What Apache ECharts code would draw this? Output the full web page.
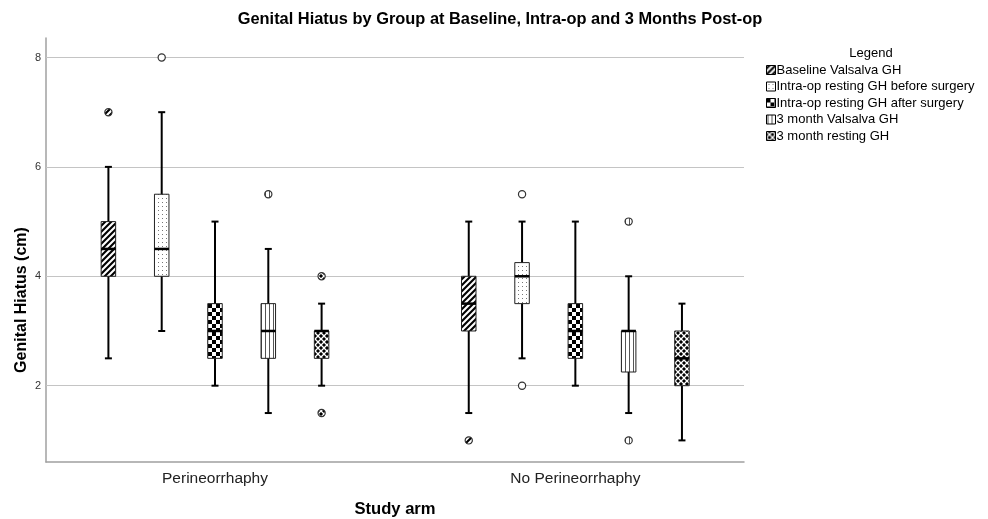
<!DOCTYPE html>
<html>
<head>
<meta charset="utf-8">
<script src="https://cdn.jsdelivr.net/npm/echarts@6/dist/echarts.min.js"></script>
<style>html,body{margin:0;padding:0;background:#fff;}#chart{width:988px;height:519px;}</style>
</head>
<body>
<div id="chart"></div>
<script>
// ---- data ----
const categories = ['Perineorrhaphy', 'No Perineorrhaphy'];
const groupPos = [1, 2];
const seriesNames = [
  'Baseline Valsalva GH',
  'Intra-op resting GH before surgery',
  'Intra-op resting GH after surgery',
  '3 month Valsalva GH',
  '3 month resting GH'
];
// [whisker low, Q1, median, Q3, whisker high] per study arm
const baselineValsalvaGH = [[2.5, 4, 4.5, 5, 6], [1.5, 3, 3.5, 4, 5]];
const intraopBeforeGH    = [[3, 4, 4.5, 5.5, 7], [2.5, 3.5, 4, 4.25, 5]];
const intraopAfterGH     = [[2, 2.5, 3, 3.5, 5], [2, 2.5, 3, 3.5, 5]];
const month3ValsalvaGH   = [[1.5, 2.5, 3, 3.5, 4.5], [1.5, 2.25, 3, 3, 4]];
const month3RestingGH    = [[2, 2.5, 3, 3, 3.5], [1, 2, 2.5, 3, 3.5]];
// outliers per study arm
const baselineValsalvaOut = [[7], [1]];
const intraopBeforeOut    = [[8], [5.5, 2]];
const intraopAfterOut     = [[], []];
const month3ValsalvaOut   = [[5.5], [5, 1]];
const month3RestingOut    = [[4, 1.5], []];
const yTicks = [2, 4, 6, 8];

// ---- patterns ----
function pat(kind) {
  const c = document.createElement('canvas');
  let ctx;
  if (kind === 'diag') {
    c.width = 6; c.height = 6; ctx = c.getContext('2d');
    ctx.fillStyle = '#000'; ctx.fillRect(0, 0, 6, 6);
    ctx.strokeStyle = '#fff'; ctx.lineWidth = 2.1;
    [0, 6, 12].forEach(k => { ctx.beginPath(); ctx.moveTo(-2, k + 2); ctx.lineTo(k + 2, -2); ctx.stroke(); });
  } else if (kind === 'dots') {
    c.width = 4; c.height = 4; ctx = c.getContext('2d');
    ctx.fillStyle = '#fff'; ctx.fillRect(0, 0, 4, 4);
    ctx.fillStyle = '#777'; ctx.fillRect(2, 2, 1, 1);
  } else if (kind === 'checker') {
    c.width = 8; c.height = 8; ctx = c.getContext('2d');
    ctx.fillStyle = '#fff'; ctx.fillRect(0, 0, 8, 8);
    ctx.fillStyle = '#000'; ctx.fillRect(0, 0, 4, 4); ctx.fillRect(4, 4, 4, 4);
  } else if (kind === 'vlines') {
    c.width = 4; c.height = 2; ctx = c.getContext('2d');
    ctx.fillStyle = '#fff'; ctx.fillRect(0, 0, 4, 2);
    ctx.fillStyle = '#555'; ctx.fillRect(1, 0, 1, 2);
  } else {
    c.width = 6; c.height = 6; ctx = c.getContext('2d');
    ctx.fillStyle = '#000'; ctx.fillRect(0, 0, 6, 6);
    ctx.strokeStyle = '#fff'; ctx.lineWidth = 1.3;
    [0, 6, 12].forEach(k => {
      ctx.beginPath(); ctx.moveTo(-2, k + 2); ctx.lineTo(k + 2, -2); ctx.stroke();
    });
    [-6, 0, 6].forEach(k => {
      ctx.beginPath(); ctx.moveTo(k - 2, -2); ctx.lineTo(k + 8, 8); ctx.stroke();
    });
  }
  return { image: c, repeat: 'repeat' };
}
const patterns = [pat('diag'), pat('dots'), pat('checker'), pat('vlines'), pat('lattice')];
const boxStats = [baselineValsalvaGH, intraopBeforeGH, intraopAfterGH, month3ValsalvaGH, month3RestingGH];
const outStats = [baselineValsalvaOut, intraopBeforeOut, intraopAfterOut, month3ValsalvaOut, month3RestingOut];
const outFill = [patterns[0], '#fff', patterns[2], patterns[3], patterns[4]];

const SPACING = 53.3, BOX_W = 14.5, CAP_W = 7;
const FONT = 'Liberation Sans, Arial, sans-serif';

function makeBoxRender(slot) {
  return function (params, api) {
    const gx = api.value(0);
    const pLow = api.coord([gx, api.value(1)]);
    const cx = pLow[0] + (slot - 2) * SPACING;
    const yLow = pLow[1];
    const yQ1 = api.coord([gx, api.value(2)])[1];
    const yMed = api.coord([gx, api.value(3)])[1];
    const yQ3 = api.coord([gx, api.value(4)])[1];
    const yHigh = api.coord([gx, api.value(5)])[1];
    const ls = { stroke: '#000', lineWidth: 2 };
    return {
      type: 'group',
      children: [
        { type: 'line', shape: { x1: cx, y1: yHigh, x2: cx, y2: yLow }, style: ls },
        { type: 'line', shape: { x1: cx - CAP_W / 2, y1: yHigh, x2: cx + CAP_W / 2, y2: yHigh }, style: ls },
        { type: 'line', shape: { x1: cx - CAP_W / 2, y1: yLow, x2: cx + CAP_W / 2, y2: yLow }, style: ls },
        { type: 'rect', shape: { x: cx - BOX_W / 2, y: yQ3, width: BOX_W, height: yQ1 - yQ3 },
          style: { fill: patterns[slot], stroke: '#222', lineWidth: 1 } },
        { type: 'line', shape: { x1: cx - BOX_W / 2, y1: yMed, x2: cx + BOX_W / 2, y2: yMed },
          style: { stroke: '#000', lineWidth: 2.5 } }
      ]
    };
  };
}
function makeOutRender(slot) {
  return function (params, api) {
    const p = api.coord([api.value(0), api.value(1)]);
    return {
      type: 'circle',
      shape: { cx: p[0] + (slot - 2) * SPACING, cy: p[1], r: 3.6 },
      style: { fill: outFill[slot], stroke: '#333', lineWidth: 1.2 }
    };
  };
}

const series = [{
  type: 'line', data: [], silent: true, z: 1,
  markLine: {
    silent: true, symbol: ['none', 'none'], label: { show: false },
    lineStyle: { color: '#c4c4c4', width: 1, type: 'solid' },
    emphasis: { disabled: true },
    data: yTicks.map(v => ({ yAxis: v }))
  }
}];
seriesNames.forEach((name, i) => {
  series.push({
    name: name, type: 'custom', z: 5,
    itemStyle: { color: patterns[i] },
    renderItem: makeBoxRender(i),
    encode: { x: 0, y: [1, 2, 3, 4, 5] },
    data: boxStats[i].map((s, g) => [groupPos[g]].concat(s))
  });
  const od = [];
  outStats[i].forEach((arr, g) => arr.forEach(v => od.push([groupPos[g], v])));
  if (od.length) {
    series.push({
      name: name, type: 'custom', z: 6,
      itemStyle: { color: patterns[i] },
      renderItem: makeOutRender(i),
      encode: { x: 0, y: 1 },
      data: od
    });
  }
});

const chart = echarts.init(document.getElementById('chart'));
chart.setOption({
  animation: false,
  backgroundColor: '#fff',
  title: [
    { text: 'Genital Hiatus by Group at Baseline, Intra-op and 3 Months Post-op', left: 495, textAlign: 'center', top: 6,
      textStyle: { fontFamily: FONT, fontSize: 16.4, fontWeight: 'bold', color: '#000' } },
    { text: 'Legend', left: 866, textAlign: 'center', top: 42,
      textStyle: { fontFamily: FONT, fontSize: 13, fontWeight: 'normal', color: '#000' } }
  ],
  legend: {
    orient: 'vertical', left: 761, top: 58, icon: 'rect',
    itemWidth: 9, itemHeight: 9, itemGap: 2.5, selectedMode: false,
    textStyle: { fontFamily: FONT, fontSize: 13, color: '#000', lineHeight: 14, padding: [0, 0, 0, -4] },
    data: seriesNames.map((n, i) => ({ name: n, icon: 'rect', itemStyle: { color: patterns[i], borderColor: '#000', borderWidth: 1 } }))
  },
  grid: { left: 46, right: 244, top: 38, bottom: 57, outerBoundsMode: 'none', containLabel: false },
  xAxis: {
    type: 'value', min: 0.531, max: 2.468,
    splitLine: { show: false },
    axisTick: { show: false },
    axisLine: { show: true, lineStyle: { color: '#a0a0a0', width: 1.5 } },
    axisLabel: {
      customValues: groupPos, margin: 9,
      formatter: v => categories[groupPos.indexOf(v)] || '',
      fontFamily: FONT, fontSize: 15.5, color: '#222'
    },
    name: 'Study arm', nameLocation: 'middle', nameGap: 39, nameMoveOverlap: false,
    nameTextStyle: { fontFamily: FONT, fontSize: 16.6, fontWeight: 'bold', color: '#000' }
  },
  yAxis: {
    type: 'value', min: 0.605, max: 8.356,
    splitLine: { show: false },
    axisTick: { show: false },
    axisLine: { show: true, lineStyle: { color: '#a0a0a0', width: 1.5 } },
    axisLabel: { customValues: yTicks, margin: 5, fontFamily: FONT, fontSize: 11, color: '#333' },
    name: 'Genital Hiatus (cm)', nameLocation: 'middle', nameGap: 16, nameMoveOverlap: false,
    nameTextStyle: { fontFamily: FONT, fontSize: 16, fontWeight: 'bold', color: '#000', padding: [0, 100, 0, 0] }
  },
  series: series
});
</script>
</body>
</html>
